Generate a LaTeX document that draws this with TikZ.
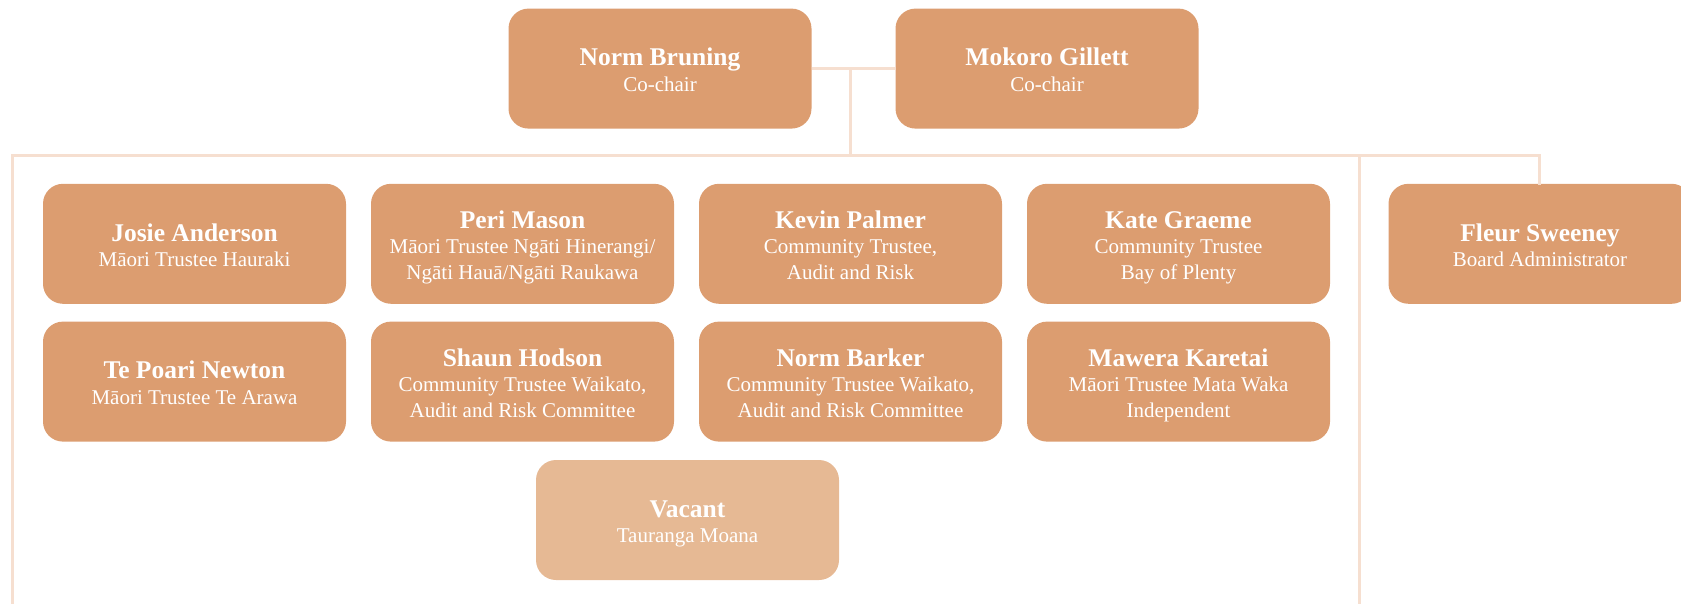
\documentclass[tikz,border=0pt]{standalone}
\usepackage{fontspec}
\setmainfont{Liberation Serif}
\definecolor{boxc}{HTML}{DC9D70}
\definecolor{vacc}{HTML}{E6B994}
\definecolor{linec}{HTML}{F6DFD0}
\newcommand{\nm}[1]{\rule{0pt}{20pt}{\fontsize{25.5}{25.5}\selectfont\bfseries #1}}
\tikzset{
  mbox/.style={fill=boxc, draw=none, rounded corners=20pt, minimum width=303pt, minimum height=120pt,
    inner sep=0pt, text=white, align=center, text depth=0pt, font=\fontsize{21}{25.5}\selectfont},
  vbox/.style={mbox, fill=vacc},
  conn/.style={draw=linec, line width=3pt}
}
\begin{document}
\begin{tikzpicture}[x=1pt,y=-1pt]
\useasboundingbox (0,0) rectangle (1681,604);
\coordinate (hub) at (850,156);
\coordinate (lt) at (12.9,156);
\coordinate (lb) at (12.9,606);
\coordinate (mt) at (1359,156);
\coordinate (mb) at (1359,606);
\coordinate (rt) at (1539,156);
\coordinate (mid) at (850,68.6);
% nodes
\node[mbox] (nb) at (660,68.6) {\nm{Norm Bruning}\\Co-chair};
\node[mbox] (mg) at (1047,68.6) {\nm{Mokoro Gillett}\\Co-chair};

\node[mbox] (ja) at (194.5,243.8) {\nm{Josie Anderson}\\Māori Trustee Hauraki};
\node[mbox] (pm) at (522.5,243.8) {\nm{Peri Mason}\\Māori Trustee Ngāti Hinerangi/\\Ngāti Hauā/Ngāti Raukawa};
\node[mbox] (kp) at (850.5,243.8) {\nm{Kevin Palmer}\\Community Trustee,\\Audit and Risk};
\node[mbox] (kg) at (1178.5,243.8) {\nm{Kate Graeme}\\Community Trustee\\Bay of Plenty};
\node[mbox] (fs) at (1540,243.8) {\nm{Fleur Sweeney}\\Board Administrator};

\node[mbox] (tn) at (194.5,381.6) {\nm{Te Poari Newton}\\Māori Trustee Te Arawa};
\node[mbox] (sh) at (522.5,381.6) {\nm{Shaun Hodson}\\Community Trustee Waikato,\\Audit and Risk Committee};
\node[mbox] (nbk) at (850.5,381.6) {\nm{Norm Barker}\\Community Trustee Waikato,\\Audit and Risk Committee};
\node[mbox] (mk) at (1178.5,381.6) {\nm{Mawera Karetai}\\Māori Trustee Mata Waka\\Independent};

\node[vbox] (va) at (687.5,520) {\nm{Vacant}\\Tauranga Moana};

\draw[conn] (nb.east |- mid) -- (mg.west |- mid);
\draw[conn] (mid) -- (hub);
\draw[conn, line cap=rect] (lb) -- (lt) -- (rt) -- (fs.north -| rt);
\draw[conn] (mt) -- (mb);
\end{tikzpicture}
\end{document}
